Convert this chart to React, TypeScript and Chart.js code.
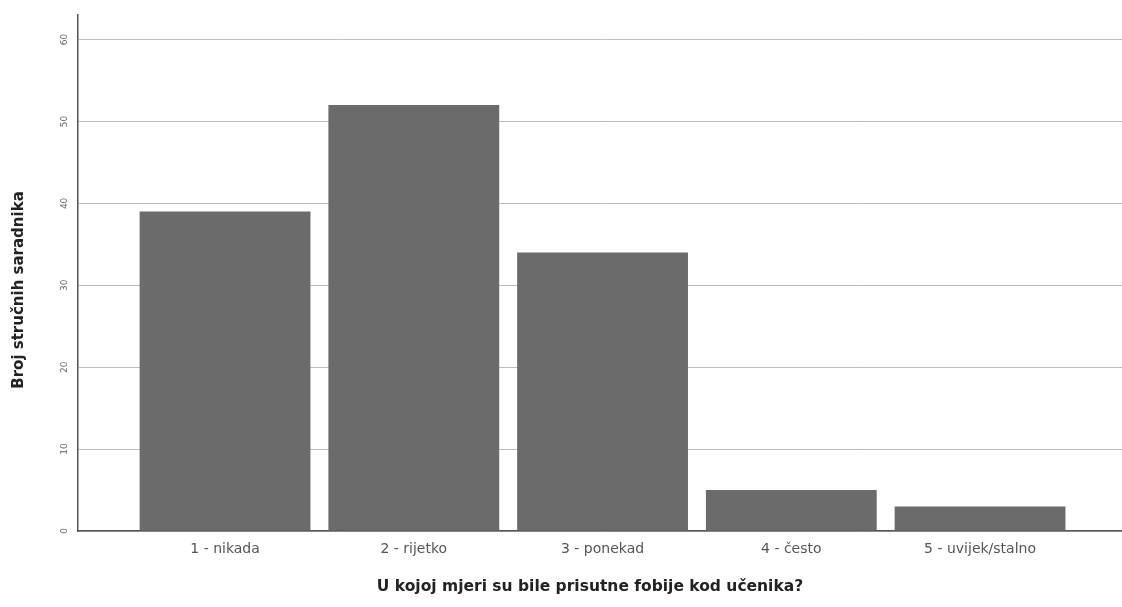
import React, { useEffect, useRef } from "react";
import { Chart, registerables } from "chart.js";

Chart.register(...registerables);

const categories = ["1 - nikada", "2 - rijetko", "3 - ponekad", "4 - često", "5 - uvijek/stalno"];
const categoryPositions = [1, 2, 3, 4, 5];
const counts = [39, 52, 34, 5, 3];
const yTicks = [0, 10, 20, 30, 40, 50, 60];
const xTitle = "U kojoj mjeri su bile prisutne fobije kod učenika?";
const yTitle = "Broj stručnih saradnika";

const axisTitles = {
  id: "axisTitles",
  afterDraw(chart: any) {
    const ctx = chart.ctx;
    ctx.save();
    ctx.fillStyle = "#222222";
    ctx.textAlign = "center";
    ctx.textBaseline = "middle";
    ctx.font = "bold 15.5px 'DejaVu Sans'";
    ctx.fillText(xTitle, 590, 587);
    ctx.font = "bold 15px 'DejaVu Sans'";
    ctx.translate(19, 290);
    ctx.rotate(-Math.PI / 2);
    ctx.fillText(yTitle, 0, 0);
    ctx.restore();
  },
};

export default function App() {
  const ref = useRef<HTMLCanvasElement | null>(null);

  useEffect(() => {
    if (!ref.current) return;
    const chart = new Chart(ref.current, {
      type: "bar",
      data: {
        datasets: [
          {
            data: categoryPositions.map((x, i) => ({ x, y: counts[i] })),
            backgroundColor: "#6b6b6b",
            borderWidth: 0,
            barPercentage: 0.905,
            categoryPercentage: 1,
          },
        ],
      },
      plugins: [axisTitles],
      options: {
        animation: false,
        responsive: false,
        maintainAspectRatio: false,
        layout: { padding: { top: 15, left: 0, right: 0, bottom: 0 } },
        plugins: { legend: { display: false }, tooltip: { enabled: false }, title: { display: false } },
        scales: {
          x: {
            type: "linear",
            offset: false,
            min: 0.221,
            max: 5.752,
            grid: { display: false, drawTicks: false },
            border: { display: true, color: "#555555", width: 1.5 },
            afterBuildTicks: (scale: any) => {
              scale.ticks = categoryPositions.map((v) => ({ value: v }));
            },
            afterFit: (scale: any) => {
              scale.height = 76;
            },
            ticks: {
              autoSkip: false,
              maxRotation: 0,
              minRotation: 0,
              padding: 10,
              color: "#555555",
              font: { family: "DejaVu Sans", size: 14 },
              callback: (v: any) => {
                const i = categoryPositions.indexOf(Number(v));
                return i >= 0 ? categories[i] : "";
              },
            },
            title: { display: false, text: xTitle },
          },
          y: {
            min: 0,
            max: 63,
            grid: { color: "#bdbdbd", lineWidth: 1, drawTicks: false },
            border: { display: true, color: "#555555", width: 1.5 },
            afterBuildTicks: (scale: any) => {
              scale.ticks = yTicks.map((v) => ({ value: v }));
            },
            afterFit: (scale: any) => {
              scale.width = 78;
            },
            ticks: {
              minRotation: 90,
              maxRotation: 90,
              crossAlign: "center",
              padding: 8,
              color: "#666666",
              font: { family: "DejaVu Sans", size: 9 },
            },
            title: { display: false, text: yTitle },
          },
        },
      },
    });
    return () => chart.destroy();
  }, []);

  return (
    <div style={{ position: "fixed", left: 0, top: 0, width: 1122, height: 607, background: "#ffffff" }}>
      <canvas ref={ref} width={1122} height={607} style={{ display: "block", width: 1122, height: 607 }} />
    </div>
  );
}
